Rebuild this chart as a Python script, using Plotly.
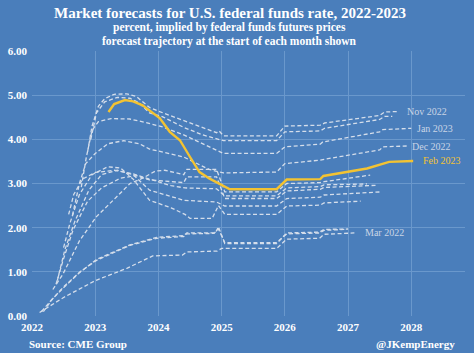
import plotly.graph_objects as go

# ---------------- data (decimal year, percent) ----------------
nov22_x = [2022.88, 2022.95, 2023.05, 2023.15, 2023.3, 2023.5, 2023.65, 2023.86, 2024.07, 2024.4, 2024.7, 2024.92, 2024.96, 2025.03, 2025.87, 2026.0, 2026.56, 2026.63, 2027.5, 2027.58, 2027.8]
nov22_y = [3.72, 4.3, 4.75, 4.92, 5.02, 5.03, 4.97, 4.72, 4.6, 4.42, 4.26, 4.15, 4.19, 4.08, 4.08, 4.30, 4.32, 4.37, 4.54, 4.62, 4.63]

oct22_x = [2022.93, 2023.02, 2023.15, 2023.35, 2023.55, 2023.7, 2023.86, 2024.07, 2024.4, 2024.7, 2024.95, 2025.03, 2025.87, 2026.0, 2026.56, 2026.63, 2027.5, 2027.58, 2027.7]
oct22_y = [4.0, 4.6, 4.85, 4.95, 4.93, 4.82, 4.6, 4.51, 4.27, 4.1, 4.0, 3.97, 3.97, 4.17, 4.19, 4.25, 4.45, 4.52, 4.52]

jan23_x = [2022.78, 2022.86, 2022.95, 2023.05, 2023.25, 2023.55, 2023.8, 2024.07, 2024.4, 2024.7, 2024.95, 2025.03, 2025.87, 2026.0, 2026.56, 2026.6, 2027.5, 2027.55, 2028.0]
jan23_y = [2.92, 3.6, 4.2, 4.4, 4.47, 4.46, 4.38, 4.28, 4.1, 3.9, 3.75, 3.68, 3.68, 3.83, 3.89, 3.94, 4.17, 4.22, 4.25]

dec22_x = [2022.64, 2022.75, 2022.85, 2023.0, 2023.2, 2023.45, 2023.7, 2023.86, 2024.4, 2024.8, 2024.97, 2025.03, 2025.87, 2026.0, 2026.56, 2026.63, 2027.5, 2027.55, 2027.95]
dec22_y = [2.28, 3.0, 3.45, 3.68, 3.9, 3.97, 3.9, 3.78, 3.6, 3.32, 3.26, 3.24, 3.26, 3.45, 3.53, 3.55, 3.76, 3.83, 3.85]

feb23_x = [2023.21, 2023.3, 2023.47, 2023.6, 2023.75, 2023.86, 2024.02, 2024.18, 2024.34, 2024.5, 2024.65, 2024.81, 2024.97, 2025.13, 2025.87, 2026.03, 2026.56, 2026.61, 2027.3, 2027.59, 2027.65, 2028.03]
feb23_y = [4.62, 4.80, 4.89, 4.86, 4.77, 4.66, 4.48, 4.17, 3.98, 3.6, 3.26, 3.11, 2.99, 2.87, 2.87, 3.09, 3.10, 3.17, 3.34, 3.45, 3.49, 3.51]

apr22_x = [2022.33, 2022.49, 2022.75, 2023.02, 2023.34, 2023.55, 2023.75, 2023.95, 2024.1, 2024.4, 2024.45, 2024.92, 2025.05, 2025.87, 2026.03, 2026.56, 2026.62, 2027.35]
apr22_y = [0.6, 0.95, 1.7, 2.25, 2.7, 3.0, 3.12, 3.28, 3.3, 3.2, 3.32, 3.32, 2.81, 2.81, 3.0, 3.02, 3.04, 3.19]

may22_x = [2022.38, 2022.5, 2022.65, 2022.88, 2023.1, 2023.4, 2023.65, 2023.86, 2024.4, 2024.45, 2024.92, 2025.05, 2025.87, 2026.03, 2026.56, 2026.62, 2027.45]
may22_y = [0.72, 1.3, 1.95, 2.6, 2.9, 3.12, 3.18, 3.08, 3.02, 3.15, 3.15, 2.66, 2.66, 2.83, 2.87, 2.91, 2.96]

jun22_x = [2022.4, 2022.52, 2022.68, 2022.9, 2023.1, 2023.35, 2023.6, 2023.86, 2024.4, 2024.92, 2025.05, 2025.87, 2026.03, 2026.56, 2026.62, 2027.53]
jun22_y = [0.8, 1.5, 2.15, 2.85, 3.2, 3.3, 3.2, 2.85, 2.62, 2.58, 2.49, 2.49, 2.66, 2.69, 2.74, 2.81]

jul22_x = [2022.5, 2022.6, 2022.75, 2022.95, 2023.2, 2023.4, 2023.6, 2023.86, 2024.2, 2024.42, 2024.5, 2024.85, 2024.95, 2025.05, 2025.87, 2026.03, 2026.56, 2026.62, 2027.2]
jul22_y = [1.55, 2.1, 2.75, 3.2, 3.38, 3.35, 3.1, 2.62, 2.45, 2.3, 2.21, 2.21, 2.5, 2.30, 2.30, 2.49, 2.51, 2.56, 2.6]

aug22_x = [2022.58, 2022.66, 2022.8, 2023.0, 2023.3, 2023.6, 2023.86, 2024.2, 2024.42, 2024.92, 2025.05, 2025.87, 2026.03, 2026.56, 2026.62, 2027.3]
aug22_y = [2.3, 2.75, 3.1, 3.25, 3.3, 3.22, 3.1, 2.95, 2.9, 2.88, 2.72, 2.72, 2.9, 2.93, 2.97, 2.99]

feb22_x = [2022.15, 2022.3, 2022.49, 2022.75, 2023.02, 2023.3, 2023.55, 2023.97, 2024.2, 2024.4, 2024.45, 2024.9, 2024.95, 2025.05, 2025.87, 2026.03, 2026.55, 2026.62, 2027.0]
feb22_y = [0.1, 0.35, 0.63, 0.98, 1.28, 1.45, 1.61, 1.78, 1.8, 1.82, 1.88, 1.88, 2.02, 1.64, 1.64, 1.88, 1.9, 1.96, 1.97]

jan22_x = [2022.18, 2022.32, 2022.5, 2022.76, 2023.02, 2023.3, 2023.55, 2023.97, 2024.2, 2024.4, 2024.45, 2024.88, 2024.95, 2025.05, 2025.87, 2026.03, 2026.55, 2026.62, 2026.95]
jan22_y = [0.1, 0.38, 0.66, 1.0, 1.26, 1.43, 1.6, 1.76, 1.79, 1.8, 1.86, 1.87, 1.97, 1.66, 1.66, 1.86, 1.88, 1.94, 1.96]

mar22_x = [2022.12, 2022.5, 2023.0, 2023.5, 2023.91, 2024.38, 2024.45, 2024.93, 2025.0, 2025.87, 2026.03, 2026.55, 2026.62, 2027.1]
mar22_y = [0.08, 0.42, 0.80, 1.08, 1.36, 1.38, 1.45, 1.47, 1.53, 1.53, 1.74, 1.76, 1.85, 1.88]

year_ticks = [2022, 2023, 2024, 2025, 2026, 2027, 2028]
year_labels = ["2022", "2023", "2024", "2025", "2026", "2027", "2028"]
rate_ticks = [0, 1, 2, 3, 4, 5, 6]
rate_labels = ["0.00", "1.00", "2.00", "3.00", "4.00", "5.00", "6.00"]

label_names = ["Nov 2022", "Jan 2023", "Dec 2022", "Feb 2023", "Mar 2022"]
label_x = [2027.9, 2028.06, 2027.98, 2028.15, 2027.23]
label_y = [4.64, 4.25, 3.83, 3.51, 1.88]

# ---------------- styling ----------------
BG = "#4a7ebb"
GRID = "#6a98cc"
DASH = "#d5deeb"
YELLOW = "#f3c332"
SERIF = "Liberation Serif, Times New Roman, serif"

fig = go.Figure()

dashed = [
    (jan22_x, jan22_y), (feb22_x, feb22_y), (mar22_x, mar22_y),
    (apr22_x, apr22_y), (may22_x, may22_y), (jun22_x, jun22_y),
    (jul22_x, jul22_y), (aug22_x, aug22_y), (dec22_x, dec22_y),
    (jan23_x, jan23_y), (oct22_x, oct22_y), (nov22_x, nov22_y),
]
for xs, ys in dashed:
    fig.add_trace(go.Scatter(x=xs, y=ys, mode="lines",
                             line=dict(color=DASH, width=1.3, dash="4px,2.5px"),
                             hoverinfo="skip", showlegend=False))

fig.add_trace(go.Scatter(x=feb23_x, y=feb23_y, mode="lines",
                         line=dict(color=YELLOW, width=2.4),
                         hoverinfo="skip", showlegend=False))

for name, lx, ly in zip(label_names, label_x, label_y):
    fig.add_annotation(x=lx, y=ly, xref="x", yref="y", text=name,
                       showarrow=False, xanchor="left", yanchor="middle",
                       font=dict(family=SERIF, size=10,
                                 color=YELLOW if name == "Feb 2023" else "#c9d5e6"))

# Titles and footer
fig.add_annotation(x=0.457, y=1.143, xref="paper", yref="paper",
                   text="<b>Market forecasts for U.S. federal funds rate, 2022-2023</b>",
                   showarrow=False, xanchor="center", yanchor="middle",
                   font=dict(family=SERIF, size=15, color="white"))
fig.add_annotation(x=0.457, y=1.087, xref="paper", yref="paper",
                   text="<b>percent, implied by federal funds futures prices</b>",
                   showarrow=False, xanchor="center", yanchor="middle",
                   font=dict(family=SERIF, size=11.5, color="white"))
fig.add_annotation(x=0.457, y=1.034, xref="paper", yref="paper",
                   text="<b>forecast trajectory at the start of each month shown</b>",
                   showarrow=False, xanchor="center", yanchor="middle",
                   font=dict(family=SERIF, size=11.5, color="white"))
fig.add_annotation(x=-0.012, y=-0.106, xref="paper", yref="paper",
                   text="<b>Source: CME Group</b>",
                   showarrow=False, xanchor="left", yanchor="middle",
                   font=dict(family=SERIF, size=11, color="white"))
fig.add_annotation(x=0.982, y=-0.106, xref="paper", yref="paper",
                   text="<b>@JKempEnergy</b>",
                   showarrow=False, xanchor="right", yanchor="middle",
                   font=dict(family=SERIF, size=11, color="white"))

fig.update_layout(
    width=474, height=353,
    margin=dict(l=32, r=9, t=51, b=37),
    paper_bgcolor=BG, plot_bgcolor=BG,
    showlegend=False,
    xaxis=dict(range=[2022, 2028.85], tickvals=year_ticks, ticktext=year_labels,
               showgrid=True, gridcolor=GRID, gridwidth=1, zeroline=False,
               showline=False, ticks="", ticklabelstandoff=3,
               tickfont=dict(family=SERIF, size=11, color="white", weight="bold")),
    yaxis=dict(range=[0, 6], tickvals=rate_ticks, ticktext=rate_labels,
               showgrid=True, gridcolor=GRID, gridwidth=1, zeroline=False,
               showline=False, ticks="", ticklabelstandoff=4,
               tickfont=dict(family=SERIF, size=11, color="white", weight="bold")),
)

fig.write_html("out.html")
